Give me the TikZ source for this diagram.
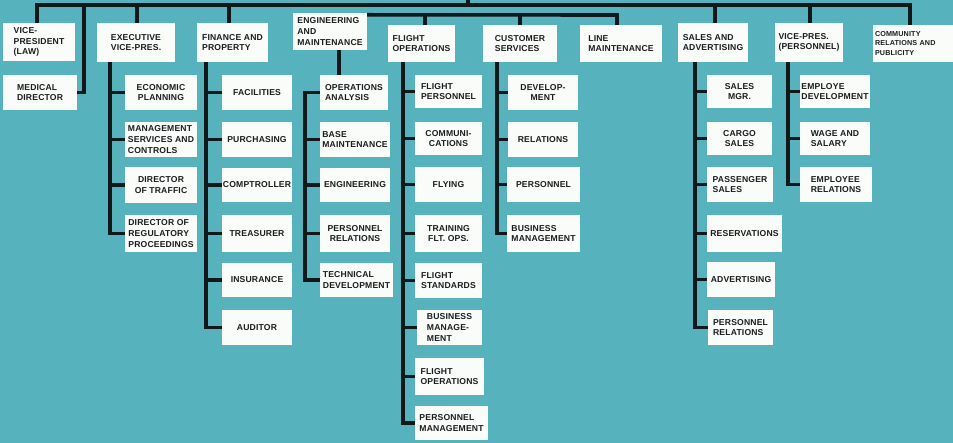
\documentclass[tikz,border=0pt]{standalone}
\usepackage{fontspec}
\newfontfamily\orgfont{Liberation Sans}[LetterSpace=2.0]
\usetikzlibrary{calc}
\definecolor{bgteal}{RGB}{86,179,190}
\definecolor{linec}{RGB}{16,24,26}
\definecolor{boxw}{RGB}{250,252,250}
\definecolor{txtc}{RGB}{26,28,30}
\newcommand{\orgbox}[7]{%
  \pgfmathsetmacro\obW{#4-#2}\pgfmathsetmacro\obH{#5-#3}%
  \node[orgb, minimum width=\obW pt, minimum height=\obH pt, align=#6] (#1) at ({(#2+#4)/2},{(#3+#5)/2}) {#7};}
\begin{document}
\begin{tikzpicture}[x=1pt,y=-1pt,
  orgb/.style={fill=boxw, text=txtc, inner sep=0pt, font=\orgfont\bfseries\fontsize{8.6}{10.6}\selectfont},
  conn/.style={draw=linec, line width=3.6pt}]
\fill[bgteal] (0,0) rectangle (953,443);
\useasboundingbox (0,0) rectangle (953,443);
% top row
\orgbox{vplaw}{3}{23}{75}{61}{left}{VICE-\\PRESIDENT\\(LAW)}
\orgbox{med}{3}{75}{77}{110}{left}{MEDICAL\\DIRECTOR}
\orgbox{evp}{97}{23}{175}{62}{left}{EXECUTIVE\\VICE-PRES.}
\orgbox{fin}{197}{23}{268}{62}{left}{FINANCE AND\\PROPERTY}
\orgbox{eng}{293}{13}{367}{50}{left}{ENGINEERING\\AND\\MAINTENANCE}
\orgbox{fo}{388}{25}{455}{62}{left}{FLIGHT\\OPERATIONS}
\orgbox{cs}{483}{25}{557}{62}{left}{CUSTOMER\\SERVICES}
\orgbox{lm}{580}{25}{662}{62}{left}{LINE\\MAINTENANCE}
\orgbox{sa}{678}{23}{748}{62}{left}{SALES AND\\ADVERTISING}
\orgbox{vpp}{775}{23}{843}{62}{left}{VICE-PRES.\\(PERSONNEL)}
\node[orgb, minimum width=80pt, minimum height=37pt, text width=76pt, align=left,
  font=\orgfont\bfseries\fontsize{7.2}{9.5}\selectfont] (crp) at (913,43.5) {COMMUNITY\\RELATIONS AND\\PUBLICITY};
% executive column
\orgbox{ep}{125}{75}{197}{110}{center}{ECONOMIC\\PLANNING}
\orgbox{msc}{125}{122}{197}{157}{left}{MANAGEMENT\\SERVICES AND\\CONTROLS}
\orgbox{dt}{125}{167}{197}{203}{center}{DIRECTOR\\OF TRAFFIC}
\orgbox{drp}{125}{215}{197}{252}{left}{DIRECTOR OF\\REGULATORY\\PROCEEDINGS}
% finance column
\orgbox{fac}{222}{75}{292}{110}{center}{FACILITIES}
\orgbox{pur}{222}{122}{292}{157}{center}{PURCHASING}
\orgbox{comp}{222}{168}{292}{202}{center}{COMPTROLLER}
\orgbox{tre}{222}{215}{292}{252}{center}{TREASURER}
\orgbox{ins}{222}{263}{292}{297}{center}{INSURANCE}
\orgbox{aud}{222}{310}{292}{345}{center}{AUDITOR}
% engineering column
\orgbox{oa}{320}{75}{388}{110}{left}{OPERATIONS\\ANALYSIS}
\orgbox{bm}{320}{122}{390}{157}{left}{BASE\\MAINTENANCE}
\orgbox{en}{320}{168}{390}{202}{center}{ENGINEERING}
\orgbox{pr}{320}{215}{390}{252}{center}{PERSONNEL\\RELATIONS}
\orgbox{td}{320}{263}{393}{297}{left}{TECHNICAL\\DEVELOPMENT}
% flight operations column
\orgbox{fp}{415}{75}{482}{108}{left}{FLIGHT\\PERSONNEL}
\orgbox{com}{415}{122}{482}{155}{center}{COMMUNI-\\CATIONS}
\orgbox{fly}{415}{167}{482}{202}{center}{FLYING}
\orgbox{tfo}{415}{215}{482}{252}{center}{TRAINING\\FLT. OPS.}
\orgbox{fs}{415}{263}{482}{298}{left}{FLIGHT\\STANDARDS}
\orgbox{bmf}{417}{310}{482}{345}{left}{BUSINESS\\MANAGE-\\MENT}
\orgbox{fop}{415}{358}{484}{395}{left}{FLIGHT\\OPERATIONS}
\orgbox{pm}{415}{406}{488}{440}{left}{PERSONNEL\\MANAGEMENT}
% customer services column
\orgbox{dev}{508}{75}{578}{110}{center}{DEVELOP-\\MENT}
\orgbox{rel}{508}{122}{578}{157}{center}{RELATIONS}
\orgbox{per}{507}{167}{580}{202}{center}{PERSONNEL}
\orgbox{bmc}{507}{215}{580}{252}{left}{BUSINESS\\MANAGEMENT}
% sales column
\orgbox{smg}{707}{75}{772}{108}{center}{SALES\\MGR.}
\orgbox{cgs}{707}{122}{772}{155}{center}{CARGO\\SALES}
\orgbox{pgs}{707}{167}{773}{202}{left}{PASSENGER\\SALES}
\orgbox{res}{707}{215}{782}{252}{left}{RESERVATIONS}
\orgbox{adv}{707}{262}{775}{297}{left}{ADVERTISING}
\orgbox{spr}{708}{310}{773}{345}{left}{PERSONNEL\\RELATIONS}
% personnel column
\orgbox{edv}{800}{75}{870}{108}{left}{EMPLOYE\\DEVELOPMENT}
\orgbox{was}{800}{122}{870}{155}{left}{WAGE AND\\SALARY}
\orgbox{erl}{800}{167}{872}{202}{left}{EMPLOYEE\\RELATIONS}
% top connectors
\coordinate (top) at (468,0);
\coordinate (busL) at (37,5);
\coordinate (busR) at (910,5);
\coordinate (dmed) at (84,5);
\coordinate (devp) at (137,5);
\coordinate (dfin) at (229,5);
\coordinate (dsa) at (715,5);
\coordinate (dvpp) at (810,5);
\draw[conn] (busL |- vplaw.north) -- (busL) -- (busR) -- (busR |- crp.north);
\draw[conn] (top) -- (top |- busL);
\draw[conn] (dmed) |- (med.east);
\draw[conn] (devp) -- (devp |- evp.north);
\draw[conn] (dfin) -- (dfin |- fin.north);
\draw[conn] (dsa) -- (dsa |- sa.north);
\draw[conn] (dvpp) -- (dvpp |- vpp.north);
% second line
\coordinate (sR) at (617,15);
\coordinate (dfo) at (425,15);
\coordinate (dcs) at (520,15);
\draw[conn] ($(eng.north east)+(0,2)$) -- (sR) -- (sR |- lm.north);
\draw[conn] (dfo) -- (dfo |- fo.north);
\draw[conn] (dcs) -- (dcs |- cs.north);
% columns
\foreach \c in {ep,msc,dt,drp} \draw[conn] ($(evp.south west)+(13,0)$) |- (\c.west);
\foreach \c in {fac,pur,comp,tre,ins,aud} \draw[conn] ($(fin.south west)+(9,0)$) |- (\c.west);
\draw[conn] ($(eng.south west)+(46,0)$) -- ($(oa.north west)+(19,0)$);
\foreach \c in {bm,en,pr,td} \draw[conn] (oa.west) -- ++(-15,0) |- (\c.west);
\foreach \c in {fp,com,fly,tfo,fs,bmf,fop,pm} \draw[conn] ($(fo.south west)+(15,0)$) |- (\c.west);
\foreach \c in {dev,rel,per,bmc} \draw[conn] ($(cs.south west)+(14,0)$) |- (\c.west);
\foreach \c in {smg,cgs,pgs,res,adv,spr} \draw[conn] ($(sa.south west)+(17,0)$) |- (\c.west);
\foreach \c in {edv,was,erl} \draw[conn] ($(vpp.south west)+(13,0)$) |- (\c.west);
\end{tikzpicture}
\end{document}
